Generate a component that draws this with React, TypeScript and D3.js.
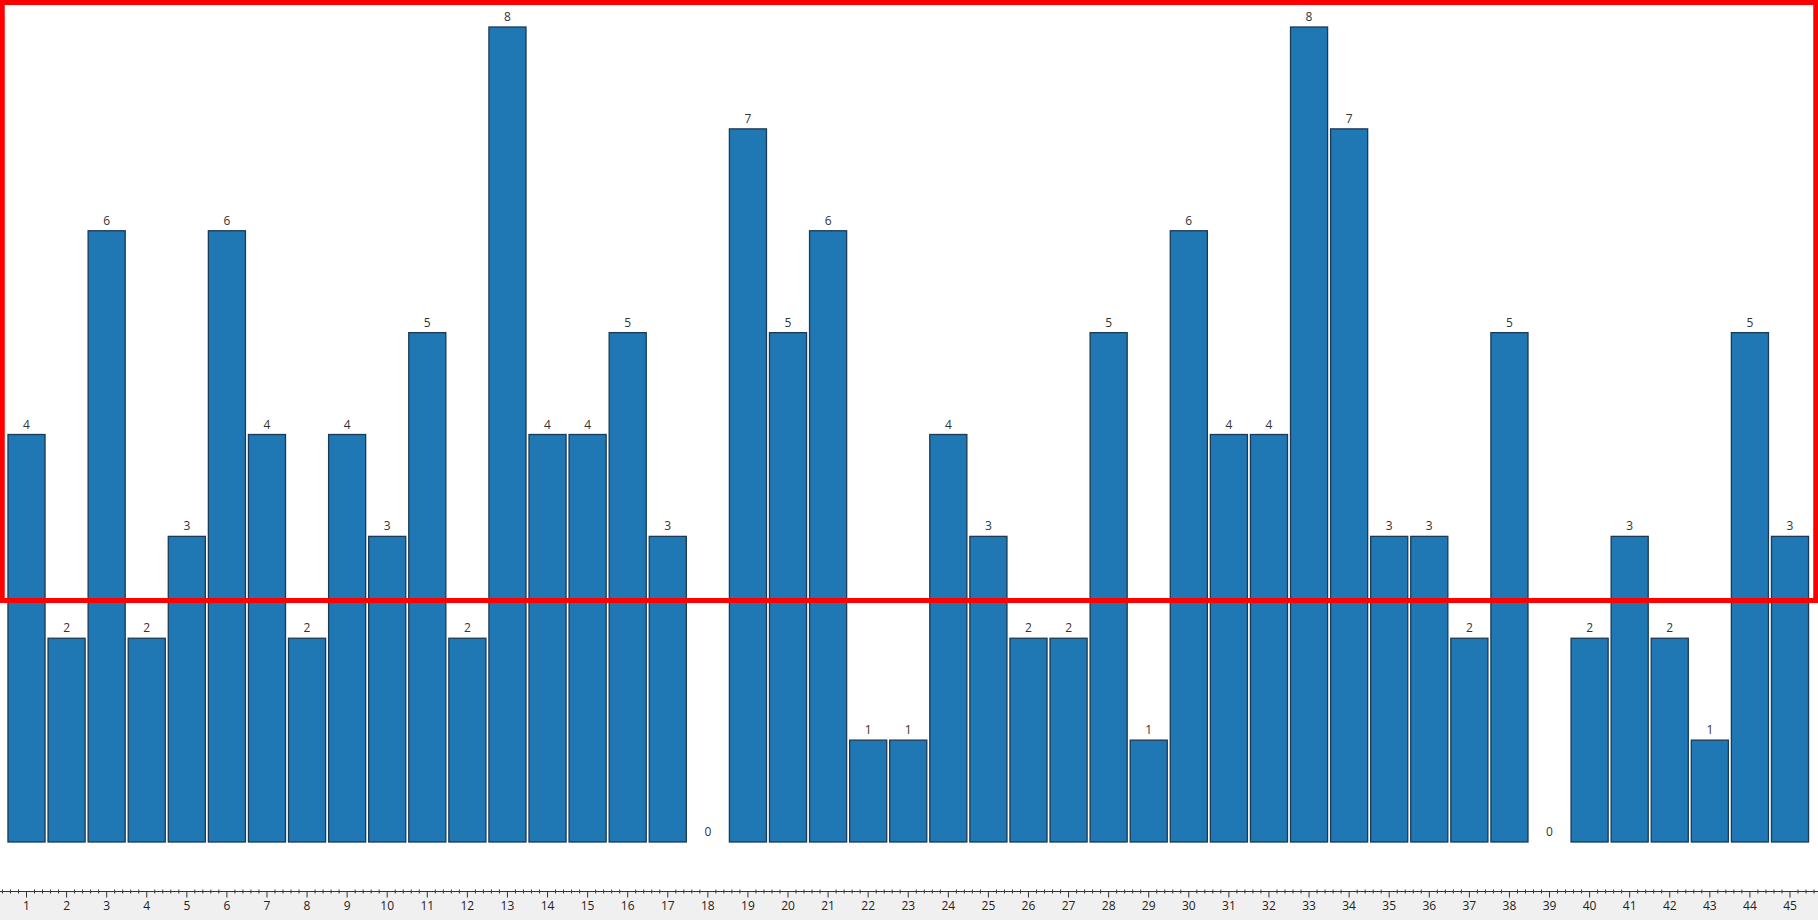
import React from "react";
import * as d3 from "d3";

const categories: number[] = Array.from({ length: 45 }, (_, i) => i + 1);
const values: number[] = [
  4, 2, 6, 2, 3, 6, 4, 2, 4, 3, 5, 2, 8, 4, 4, 5, 3, 0, 7, 5, 6, 1, 1, 4, 3, 2, 2, 5, 1, 6,
  4, 4, 8, 7, 3, 3, 2, 5, 0, 2, 3, 2, 1, 5, 3,
];
const tickLabels: string[] = categories.map(String);

const W = 1818;
const H = 920;

export default function App() {
  const x = d3.scaleLinear().domain([1, 45]).range([26.5, 1790]);
  const y = d3.scaleLinear().domain([0, 8]).range([842, 27]);
  const step = x(2) - x(1);
  const bw = step - 3;
  const axisY = 891.5;
  const xMin = x.invert(0);
  const xMax = x.invert(W);
  const minorTicks: number[] = [];
  for (let v = Math.ceil(xMin * 5) / 5; v <= xMax; v += 0.2) {
    const r = Math.round(v * 5) / 5;
    if (Math.abs(r - Math.round(r)) > 1e-6) minorTicks.push(r);
  }
  const font = "'Open Sans', 'Noto Sans', sans-serif";
  return (
    <div style={{ position: "fixed", left: 0, top: 0 }}>
      <svg width={W} height={H} style={{ display: "block", background: "#fff" }}>
        <rect x={0} y={axisY} width={W} height={H - axisY} fill="#f0f0f0" />
        {categories.map((c, i) => {
          const v = values[i];
          const top = y(v);
          return (
            <g key={c}>
              {v > 0 && (
                <rect
                  x={x(c) - bw / 2}
                  y={top}
                  width={bw}
                  height={y(0) - top}
                  fill="#1f77b4"
                  stroke="#1a3a55"
                  strokeWidth={1.3}
                />
              )}
              <text
                x={x(c)}
                y={top - 6}
                textAnchor="middle"
                fontFamily={font}
                fontSize={12}
                fill="#333"
              >
                {v}
              </text>
            </g>
          );
        })}
        <line x1={0} x2={W} y1={axisY} y2={axisY} stroke="#333" strokeWidth={1} />
        {minorTicks.map((t) => (
          <line key={"m" + t} x1={x(t)} x2={x(t)} y1={axisY - 2} y2={axisY + 2} stroke="#333" strokeWidth={1} />
        ))}
        {categories.map((c, i) => (
          <g key={"t" + c}>
            <line x1={x(c)} x2={x(c)} y1={axisY} y2={axisY + 6} stroke="#333" strokeWidth={1} />
            <text
              x={x(c)}
              y={axisY + 18}
              textAnchor="middle"
              fontFamily={font}
              fontSize={12}
              fill="#222"
            >
              {tickLabels[i]}
            </text>
          </g>
        ))}
        <rect x={2.25} y={2.5} width={1813.5} height={598} fill="none" stroke="#ff0000" strokeWidth={5} />
      </svg>
    </div>
  );
}
